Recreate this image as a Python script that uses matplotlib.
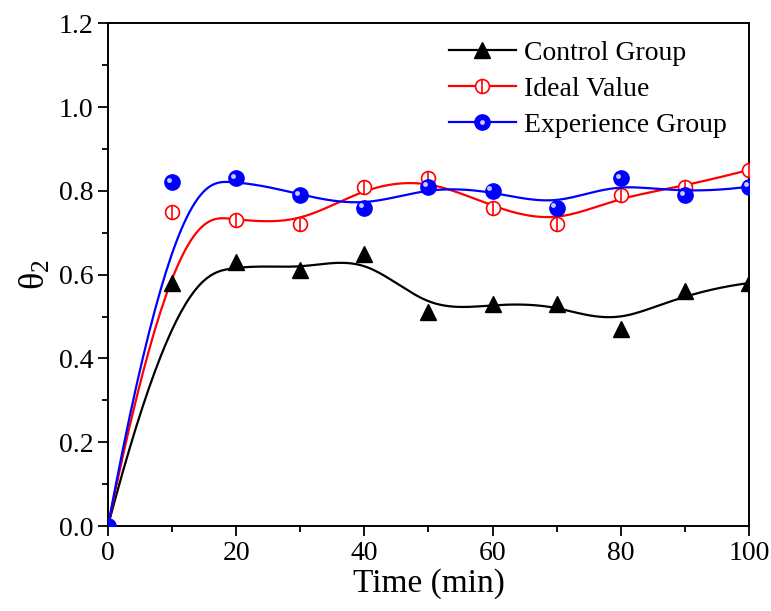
import numpy as np
import matplotlib
matplotlib.use("Agg")
import matplotlib.pyplot as plt

plt.rcParams["font.family"] = ["Liberation Serif", "DejaVu Serif"]
plt.rcParams["mathtext.fontset"] = "custom"
plt.rcParams["mathtext.rm"] = "Liberation Serif"

# data
time_min = [0, 10, 20, 30, 40, 50, 60, 70, 80, 90, 100]
control_group = [0.0, 0.58, 0.63, 0.61, 0.65, 0.51, 0.53, 0.53, 0.47, 0.56, 0.58]
ideal_value = [0.0, 0.75, 0.73, 0.72, 0.81, 0.83, 0.76, 0.72, 0.79, 0.81, 0.85]
experience_group = [0.0, 0.82, 0.83, 0.79, 0.76, 0.81, 0.80, 0.76, 0.83, 0.79, 0.81]


def bspline(xs, ys, num=400, k=3):
    """Clamped uniform B-spline through control points (Origin style)."""
    pts = np.column_stack([xs, ys]).astype(float)
    n = len(pts)
    inner = np.arange(1, n - k)
    knots = np.concatenate([np.zeros(k + 1), inner, np.full(k + 1, n - k)])
    t = np.linspace(0, n - k, num)
    t[-1] -= 1e-9
    basis = np.zeros((num, len(knots) - 1))
    for i in range(len(knots) - 1):
        basis[:, i] = (t >= knots[i]) & (t < knots[i + 1])
    for d in range(1, k + 1):
        new = np.zeros((num, len(knots) - 1 - d))
        for i in range(len(knots) - 1 - d):
            a = knots[i + d] - knots[i]
            b = knots[i + d + 1] - knots[i + 1]
            left = (t - knots[i]) / a * basis[:, i] if a > 0 else 0
            right = (knots[i + d + 1] - t) / b * basis[:, i + 1] if b > 0 else 0
            new[:, i] = left + right
        basis = new
    curve = basis @ pts
    return curve[:, 0], curve[:, 1]


fig = plt.figure(figsize=(7.71, 6.11), dpi=100)
ax = fig.add_axes([0.140, 0.139, 0.8315, 0.823])

lw = 1.6
# control group
cx, cy = bspline(time_min, control_group)
ax.plot(cx, cy, color="black", lw=lw, zorder=2)
ax.plot(time_min, control_group, ls="none", marker="^", ms=12,
        color="black", zorder=3)

# ideal value
ix, iy = bspline(time_min, ideal_value)
ax.plot(ix, iy, color="red", lw=lw, zorder=2)
ax.plot(time_min, ideal_value, ls="none", marker="o", ms=10,
        mfc="white", mec="red", mew=1.2, zorder=3)
ax.plot(time_min, ideal_value, ls="none", marker="|", ms=10,
        mec="red", mew=1.2, zorder=3)

# experience group
ex, ey = bspline(time_min, experience_group)
ax.plot(ex, ey, color="blue", lw=lw, zorder=4)
ax.plot(time_min, experience_group, ls="none", marker="o", ms=11,
        mfc="blue", mec="blue", zorder=5)
ax.plot(np.array(time_min) - 0.5, np.array(experience_group) + 0.006,
        ls="none", marker="o", ms=3.5, mfc="#c8c8ff", mec="none", zorder=6)

# legend handles
h_ctrl = plt.Line2D([], [], color="black", lw=lw, marker="^", ms=12)
h_ideal_o = plt.Line2D([], [], color="red", lw=lw, marker="o", ms=10,
                       mfc="white", mec="red", mew=1.2)
h_ideal_l = plt.Line2D([], [], ls="none", marker="|", ms=10, mec="red", mew=1.2)
h_exp = plt.Line2D([], [], color="blue", lw=lw, marker="o", ms=11, mfc="blue")
h_exp_hi = plt.Line2D([], [], ls="none", marker="o", ms=3.5, mfc="#c8c8ff", mec="none")
ax.legend([h_ctrl, (h_ideal_o, h_ideal_l), (h_exp, h_exp_hi)],
          ["Control Group", "Ideal Value", "Experience Group"],
          loc="upper right", bbox_to_anchor=(1.0, 1.01), frameon=False,
          fontsize=20, handlelength=2.4, handletextpad=0.3,
          labelspacing=0.38, borderaxespad=0.4)

ax.set_xlim(0, 100)
ax.set_ylim(0, 1.2)
ax.set_xticks(np.arange(0, 101, 20))
ax.set_xticks(np.arange(10, 100, 20), minor=True)
ax.set_yticks(np.arange(0, 1.21, 0.2))
ax.set_yticks(np.arange(0.1, 1.2, 0.2), minor=True)
ax.set_yticklabels([f"{v:.1f}" for v in np.arange(0, 1.21, 0.2)])

ax.tick_params(which="both", direction="out", width=1.3, labelsize=20,
               top=False, right=False)
ax.tick_params(which="major", length=7)
ax.tick_params(which="minor", length=4.5)
for s in ax.spines.values():
    s.set_linewidth(1.4)

ax.set_xlabel("Time (min)", fontsize=24, labelpad=2)
ax.set_ylabel(r"$\mathregular{θ_2}$", fontsize=26, labelpad=4)

fig.savefig("out.png", dpi=100)
